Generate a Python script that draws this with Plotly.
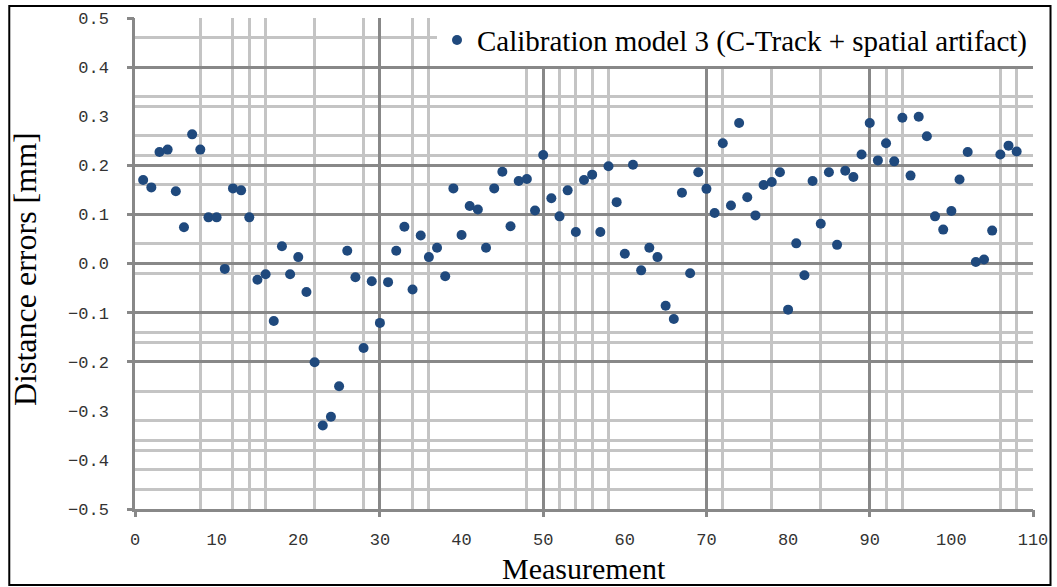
import plotly.graph_objects as go

# Measurement index and distance error per measurement (mm)
measurement = list(range(1, 109))
distance_error = [
    0.170, 0.155, 0.227, 0.232, 0.147, 0.074, 0.263, 0.232, 0.094, 0.094,
    -0.011, 0.153, 0.149, 0.094, -0.033, -0.022, -0.117, 0.035, -0.022, 0.013,
    -0.058, -0.201, -0.330, -0.312, -0.250, 0.026, -0.028, -0.172, -0.036, -0.121,
    -0.038, 0.026, 0.075, -0.053, 0.057, 0.013, 0.032, -0.026, 0.153, 0.058,
    0.117, 0.110, 0.032, 0.153, 0.187, 0.076, 0.168, 0.172, 0.108, 0.221,
    0.133, 0.096, 0.149, 0.064, 0.170, 0.181, 0.064, 0.198, 0.125, 0.020,
    0.201, -0.014, 0.032, 0.013, -0.086, -0.113, 0.144, -0.020, 0.186, 0.152,
    0.103, 0.245, 0.118, 0.286, 0.135, 0.098, 0.160, 0.166, 0.186, -0.094,
    0.041, -0.024, 0.168, 0.081, 0.186, 0.038, 0.189, 0.176, 0.222, 0.286,
    0.210, 0.245, 0.208, 0.297, 0.179, 0.299, 0.259, 0.096, 0.069, 0.107,
    0.171, 0.227, 0.003, 0.008, 0.067, 0.222, 0.240, 0.228,
]

series_name = "Calibration model 3 (C-Track + spatial artifact)"
x_title = "Measurement"
y_title = "Distance errors [mm]"

# Axis tick labels
x_ticks = list(range(0, 111, 10))
y_ticks = [round(-0.5 + 0.1 * i, 1) for i in range(11)]
y_ticktext = [("\u2212" if v < 0 else "") + f"{abs(v):.1f}" for v in y_ticks]

# Grid layout: strong lines and fine lines
x_grid_major = [0, 30, 50, 70, 90, 110]
x_grid_minor = [8, 12, 14, 16, 22, 28, 34, 36, 48, 52, 54, 56, 58, 72, 78, 84, 92, 94, 106, 108]
y_grid_major = [0.5, 0.4, 0.2, 0.1, 0.0, -0.1, -0.2, -0.5]
y_grid_minor = [0.46, 0.34, 0.32, 0.26, 0.22, 0.16, 0.04, -0.02, -0.14, -0.16,
                -0.26, -0.32, -0.36, -0.38, -0.42, -0.46]

MARK = "#1F497D"
GRID_DARK = "#888888"
GRID_LIGHT = "#C4C4C4"
TICK_FONT = dict(family="Liberation Mono", size=17, color="#333333")
SERIF = "Liberation Serif"

fig = go.Figure()
fig.add_trace(go.Scatter(
    x=measurement, y=distance_error, mode="markers", name=series_name,
    marker=dict(color=MARK, size=10, symbol="circle"),
    xaxis="x", yaxis="y",
))
# companion trace that carries the strong-grid overlay axes
fig.add_trace(go.Scatter(
    x=measurement, y=distance_error, mode="markers", showlegend=False,
    marker=dict(color=MARK, size=10, opacity=0), hoverinfo="skip",
    xaxis="x2", yaxis="y2",
))

fig.update_layout(
    template="none",
    width=1057, height=587,
    margin=dict(l=135, r=24, t=18, b=78),
    paper_bgcolor="white", plot_bgcolor="white",
    showlegend=True,
    legend=dict(
        x=1, xanchor="right", y=0.955, yanchor="middle",
        bgcolor="white", borderwidth=0,
        font=dict(family=SERIF, size=29, color="black"),
        itemsizing="trace", itemwidth=30,
    ),
    xaxis=dict(
        automargin=False,
        range=[0, 110], tickmode="array", tickvals=x_ticks,
        ticks="", showgrid=False, zeroline=False,
        showline=True, linecolor=GRID_DARK, linewidth=2.5,
        tickfont=TICK_FONT, ticklabelstandoff=13,
        minor=dict(tickmode="array", tickvals=x_grid_minor, showgrid=True,
                   gridcolor=GRID_LIGHT, gridwidth=2.5, ticks=""),
    ),
    yaxis=dict(
        automargin=False,
        range=[-0.5, 0.5], tickmode="array", tickvals=y_ticks, ticktext=y_ticktext,
        ticks="", showgrid=False, zeroline=False,
        showline=True, linecolor=GRID_DARK, linewidth=2.5,
        tickfont=TICK_FONT, ticklabelstandoff=20,
        minor=dict(tickmode="array", tickvals=y_grid_minor, showgrid=True,
                   gridcolor=GRID_LIGHT, gridwidth=2.5, ticks=""),
    ),
    xaxis2=dict(
        automargin=False,
        overlaying="x", anchor="y", side="bottom", range=[0, 110],
        tickmode="array", tickvals=x_grid_major, showticklabels=False,
        showgrid=True, gridcolor=GRID_DARK, gridwidth=2.5, zeroline=False,
        ticks="outside", ticklen=7, tickwidth=2.5, tickcolor=GRID_DARK,
    ),
    yaxis2=dict(
        automargin=False,
        overlaying="y", anchor="x", side="left", range=[-0.5, 0.5],
        tickmode="array", tickvals=y_grid_major, showticklabels=False,
        showgrid=True, gridcolor=GRID_DARK, gridwidth=2.5, zeroline=False,
        ticks="outside", ticklen=7, tickwidth=2.5, tickcolor=GRID_DARK,
    ),
)

# axis titles
fig.add_annotation(text=x_title, xref="paper", yref="paper", x=0.5, y=-0.1585,
                   xanchor="center", yanchor="bottom", showarrow=False,
                   font=dict(family=SERIF, size=30, color="black"))
fig.add_annotation(text=y_title, xref="paper", yref="paper", x=-0.1225, y=0.4888,
                   xanchor="center", yanchor="middle", textangle=-90, showarrow=False,
                   font=dict(family=SERIF, size=32, color="black"))

# outer frame around the chart
fig.add_shape(type="rect", xref="paper", yref="paper",
              x0=-0.140, x1=1.0195, y0=-0.1548, y1=1.0244,
              line=dict(color="black", width=2), fillcolor="rgba(0,0,0,0)", layer="above")

fig.write_html("out.html")
